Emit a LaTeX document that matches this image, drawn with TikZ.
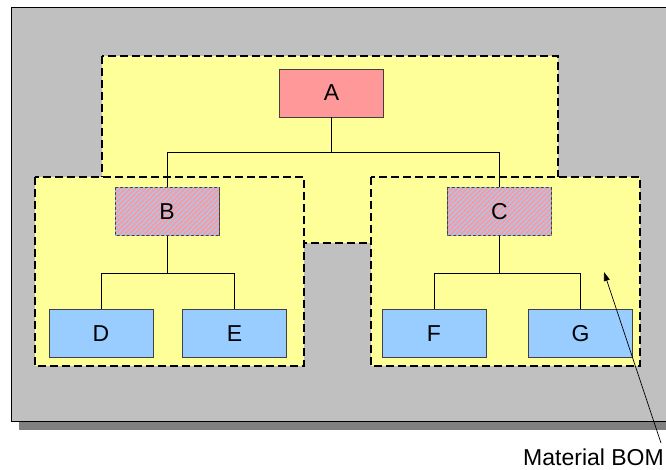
\documentclass[tikz,border=0pt]{standalone}
\usepackage{fontspec}
\setmainfont{Liberation Sans}
\usetikzlibrary{patterns.meta,arrows.meta}
\definecolor{bggray}{HTML}{C0C0C0}
\definecolor{shadowgray}{HTML}{808080}
\definecolor{grp}{HTML}{FFFF99}
\definecolor{pinkc}{HTML}{FF9999}
\definecolor{bluec}{HTML}{99CCFF}
\definecolor{edge}{HTML}{404040}
\tikzset{
  group/.style={draw=black,fill=grp,line width=1.6pt,dash pattern=on 8pt off 4pt},
  item/.style={draw=edge,line width=0.8pt,minimum width=104pt,minimum height=48pt,inner sep=0pt,font=\fontsize{23}{26}\selectfont},
  top/.style={item,fill=pinkc},
  mid/.style={item,fill=pinkc,postaction={pattern={Lines[angle=45,distance=3.5pt,line width=1.2pt]},pattern color=bluec}},
  leaf/.style={item,fill=bluec},
  wire/.style={draw=black,line width=0.7pt}
}
\begin{document}
\begin{tikzpicture}[x=1pt,y=-1pt]
\useasboundingbox (0,0) rectangle (666,470);
\fill[shadowgray] (19,15) rectangle (680,430);
\draw[fill=bggray,line width=0.8pt] (11,7) rectangle (680,421);
\draw[group] (102,56) rectangle (558,243);
\draw[group] (35,177) rectangle (304,366);
\draw[group] (371,177) rectangle (640,366);
\node[top]  (A) at (331.5,93) {A};
\node[mid]  (B) at (167,211.5) {B};
\node[mid]  (C) at (499.5,211.5) {C};
\node[leaf] (D) at (101,333.5) {D};
\node[leaf] (E) at (234.5,333.5) {E};
\node[leaf] (F) at (434,333.5) {F};
\node[leaf] (G) at (580.5,333.5) {G};
\draw[wire] (A.south) -- ++(0,35) -| (B.north);
\draw[wire] (A.south) -- ++(0,35) -| (C.north);
\draw[wire] (B.south) -- ++(0,37) -| (D.north);
\draw[wire] (B.south) -- ++(0,37) -| (E.north);
\draw[wire] (C.south) -- ++(0,37) -| (F.north);
\draw[wire] (C.south) -- ++(0,37) -| (G.north);
\node[font=\fontsize{23}{26}\selectfont,anchor=east,inner sep=0pt] (L) at (664,457) {Material BOM};
\coordinate (tip) at (604,272);
\draw[line width=0.7pt,-{Triangle[length=9pt,width=6pt]}] (661,443) -- (tip);
\end{tikzpicture}
\end{document}
